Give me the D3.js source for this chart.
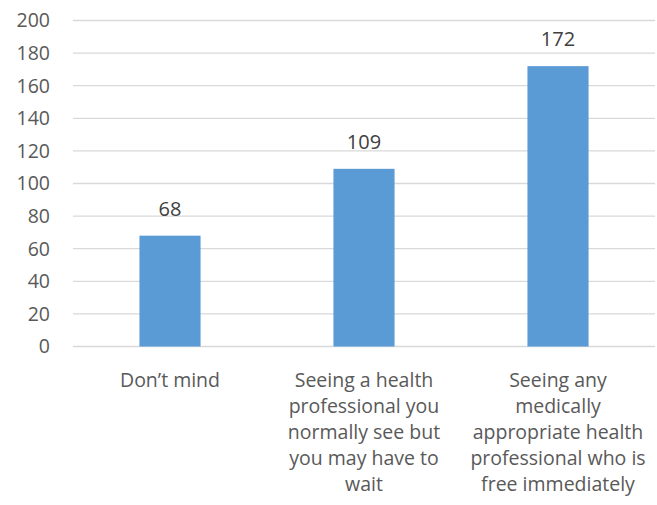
<!DOCTYPE html>
<html><head><meta charset="utf-8">
<script src="https://cdn.jsdelivr.net/npm/d3@7"></script>
<style>body{margin:0;background:#fff;} text{font-family:"Open Sans",sans-serif;}</style>
</head><body><svg id="c" width="657" height="505"></svg>
<script>
const categories = [
  ["Don’t mind"],
  ["Seeing a health", "professional you", "normally see but", "you may have to", "wait"],
  ["Seeing any", "medically", "appropriate health", "professional who is", "free immediately"]
];
const values = [68, 109, 172];
const yTicks = [0, 20, 40, 60, 80, 100, 120, 140, 160, 180, 200];

const svg = d3.select("#c");
const m = {left: 73, right: 2, top: 20.5, bottom: 158.5};
const W = 657, H = 505;
const x = d3.scaleBand().domain(d3.range(values.length)).range([m.left, W - m.right]).padding(0);
const y = d3.scaleLinear().domain([0, 200]).range([H - m.bottom, m.top]);
const barW = x.bandwidth() * 0.315;

svg.append("g").selectAll("line").data(yTicks).join("line")
  .attr("x1", m.left).attr("x2", W - m.right)
  .attr("y1", d => y(d)).attr("y2", d => y(d))
  .attr("stroke", "#d9d9d9").attr("stroke-width", 1.3);

svg.append("g").selectAll("text").data(yTicks).join("text")
  .attr("x", 50).attr("y", d => y(d)).attr("dy", "0.35em")
  .attr("text-anchor", "end").attr("font-size", 19.5).attr("fill", "#595959")
  .text(d => d);

svg.append("g").selectAll("rect").data(values).join("rect")
  .attr("x", (d, i) => x(i) + x.bandwidth() / 2 - barW / 2)
  .attr("width", barW)
  .attr("y", d => y(d)).attr("height", d => y(0) - y(d))
  .attr("fill", "#5b9bd5");

svg.append("g").selectAll("text").data(values).join("text")
  .attr("x", (d, i) => x(i) + x.bandwidth() / 2)
  .attr("y", d => y(d) - 20)
  .attr("text-anchor", "middle").attr("font-size", 20).attr("fill", "#404040")
  .text(d => d);

const cg = svg.append("g");
categories.forEach((lines, i) => {
  const t = cg.append("text").attr("text-anchor", "middle").attr("font-size", 19.5).attr("fill", "#595959");
  lines.forEach((l, j) => {
    t.append("tspan").attr("x", x(i) + x.bandwidth() / 2).attr("y", 387 + j * 26).text(l);
  });
});
</script></body></html>
